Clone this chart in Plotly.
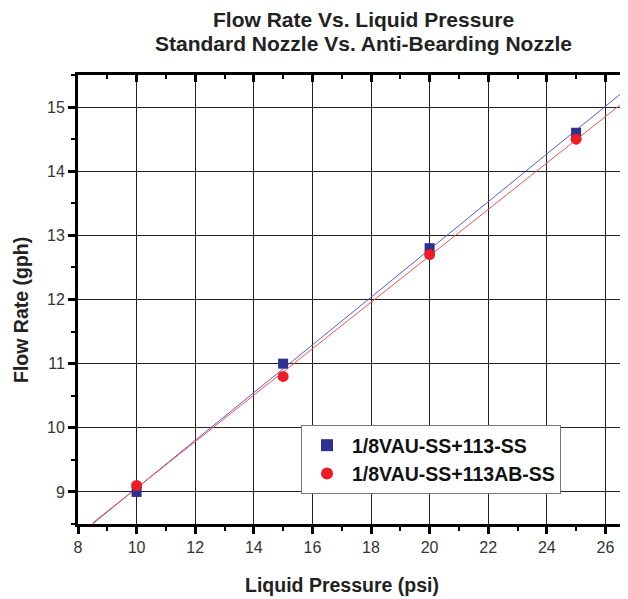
import numpy as np
import plotly.graph_objects as go

pressure = [10, 15, 20, 25]
flow_std = [9.0, 11.0, 12.8, 14.6]
flow_ab = [9.1, 10.8, 12.7, 14.5]
fit_x = [8.5, 26.5]
names = ["1/8VAU-SS+113-SS", "1/8VAU-SS+113AB-SS"]

# page body has an 8px margin, so the figure is sized to the visible area
W, H = 620, 591
ML, MR, MT, MB = 70, 0, 67, 75
PW, PH = W - ML - MR, H - MT - MB

def fit(xs, ys):
    k, b = np.polyfit(xs, ys, 1)
    return [k * x + b for x in fit_x]

def px(x):
    return (x - ML) / PW

def py(y):
    return (H - MB - y) / PH

FONT = "Liberation Sans, Arial, sans-serif"
fig = go.Figure()
fig.add_trace(go.Scatter(x=fit_x, y=fit(pressure, flow_std), mode="lines",
                         line=dict(color="#5a5ad0", width=1), showlegend=False, hoverinfo="skip"))
fig.add_trace(go.Scatter(x=fit_x, y=fit(pressure, flow_ab), mode="lines",
                         line=dict(color="#ff5050", width=1), showlegend=False, hoverinfo="skip"))
fig.add_trace(go.Scatter(x=pressure, y=flow_std, mode="markers", name=names[0],
                         marker=dict(symbol="square", size=10, color="#2e3192")))
fig.add_trace(go.Scatter(x=pressure, y=flow_ab, mode="markers", name=names[1],
                         marker=dict(symbol="circle", size=11, color="#ee1c24")))
# invisible trace for the top axis
fig.add_trace(go.Scatter(x=[8], y=[8.5], xaxis="x2", mode="markers",
                         marker=dict(opacity=0), showlegend=False, hoverinfo="skip"))

XR = [8, 8 + PW / 29.3]
tickfont = dict(family=FONT, size=16, color="#333333")
fig.update_layout(
    width=W, height=H,
    margin=dict(l=ML, r=MR, t=MT, b=MB),
    paper_bgcolor="white", plot_bgcolor="white",
    showlegend=True,
    legend=dict(x=px(293), y=py(417), xanchor="left", yanchor="top",
                bgcolor="white", bordercolor="#777777", borderwidth=1,
                font=dict(family=FONT, size=19.5, color="#111111", weight="bold"),
                itemsizing="constant", itemwidth=40, tracegroupgap=0),
    xaxis=dict(range=XR, tick0=8, dtick=2, showgrid=True, gridcolor="#222222",
               gridwidth=1, zeroline=False, showline=True, linecolor="black", linewidth=3,
               ticks="outside", ticklen=7, tickwidth=3, tickcolor="black",
               tickfont=tickfont,
               minor=dict(dtick=1, tick0=8, ticks="outside", ticklen=4, tickwidth=2,
                          tickcolor="black", showgrid=False)),
    xaxis2=dict(range=XR, overlaying="x", side="top", matches="x",
                showticklabels=False, showgrid=False, zeroline=False,
                showline=True, linecolor="black", linewidth=3,
                ticks="inside", ticklen=7, tickwidth=3, tickcolor="black", tick0=8, dtick=2,
                minor=dict(dtick=1, tick0=8, ticks="inside", ticklen=4, tickwidth=2,
                           tickcolor="black")),
    yaxis=dict(range=[8.5, 15.5], tick0=9, dtick=1, showgrid=True, gridcolor="#222222",
               gridwidth=1, zeroline=False, showline=True, linecolor="black", linewidth=3,
               ticks="outside", ticklen=7, tickwidth=3, tickcolor="black",
               tickfont=tickfont,
               minor=dict(dtick=0.5, tick0=8.5, ticks="outside", ticklen=4, tickwidth=2,
                          tickcolor="black", showgrid=False)),
    annotations=[
        dict(text="<b>Flow Rate Vs. Liquid Pressure</b>", xref="paper", yref="paper",
             x=px(355), y=py(11), xanchor="center", yanchor="middle", showarrow=False,
             font=dict(family=FONT, size=21, color="#222222")),
        dict(text="<b>Standard Nozzle Vs. Anti-Bearding Nozzle</b>", xref="paper", yref="paper",
             x=px(355), y=py(36), xanchor="center", yanchor="middle", showarrow=False,
             font=dict(family=FONT, size=21, color="#222222")),
        dict(text="<b>Liquid Pressure (psi)</b>", xref="paper", yref="paper",
             x=px(334), y=py(577), xanchor="center", yanchor="middle", showarrow=False,
             font=dict(family=FONT, size=19.5, color="#222222")),
        dict(text="<b>Flow Rate (gph)</b>", xref="paper", yref="paper",
             x=px(13), y=py(302), xanchor="center", yanchor="middle", showarrow=False,
             textangle=-90, font=dict(family=FONT, size=19.5, color="#222222")),
    ],
)

fig.write_html("out.html")
